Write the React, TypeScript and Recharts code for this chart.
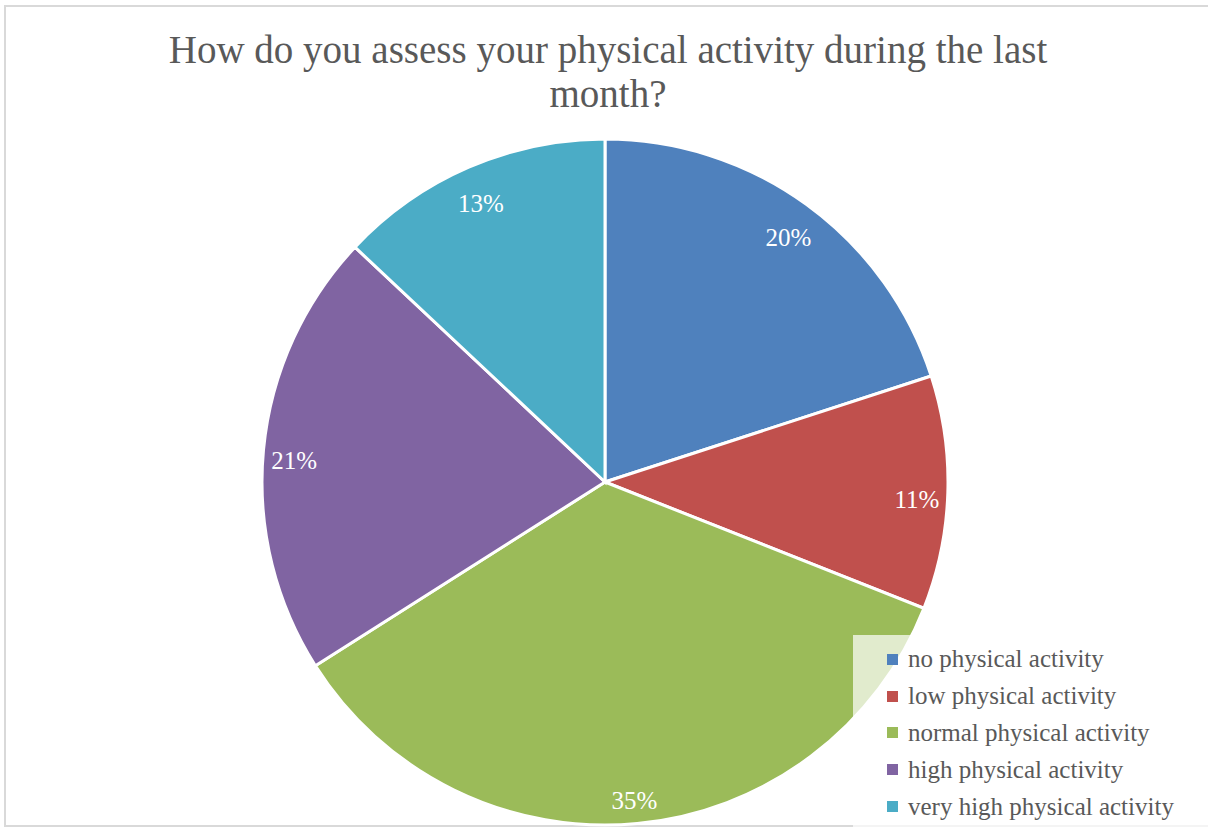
import React from 'react';
import { PieChart, Pie, Cell, Legend } from 'recharts';

const categories = [
  'no physical activity',
  'low physical activity',
  'normal physical activity',
  'high physical activity',
  'very high physical activity',
];
const shares = [20, 11, 35, 21, 13];
const colors = ['#4F81BD', '#C0504D', '#9BBB59', '#8064A2', '#4BACC6'];

const title = ['How do you assess your physical activity during the last', 'month?'];

const data = categories.map((name, i) => ({ name, value: shares[i] }));

const FONT = '"Liberation Serif", "DejaVu Serif", serif';
const RADIAN = Math.PI / 180;

const renderLabel = (props: any) => {
  const { cx, cy, midAngle, outerRadius, value } = props;
  const r = outerRadius * 0.91;
  const x = cx + r * Math.cos(-midAngle * RADIAN);
  const y = cy + r * Math.sin(-midAngle * RADIAN) + 8;
  return (
    <text x={x} y={y} fill="#ffffff" fontSize={25} fontFamily={FONT} textAnchor="middle" dominantBaseline="central">
      {value}%
    </text>
  );
};

const LegendBox = () => (
  <div style={{ background: 'rgba(255,255,255,0.7)', width: 360, height: 195, paddingTop: 6, boxSizing: 'border-box' }}>
    {categories.map((name, i) => (
      <div key={name} style={{ display: 'flex', alignItems: 'center', height: 36.8, paddingLeft: 34 }}>
        <div style={{ width: 11, height: 11, background: colors[i], marginRight: 10 }} />
        <span style={{ fontFamily: FONT, fontSize: 25, color: '#595959' }}>{name}</span>
      </div>
    ))}
  </div>
);

export default function App() {
  return (
    <div style={{ position: 'absolute', left: 0, top: 0, width: 1208, height: 830, overflow: 'hidden', background: '#fff' }}>
      <div style={{ position: 'absolute', left: 4, top: 5, width: 1300, height: 822, border: '2px solid #d9d9d9', boxSizing: 'border-box' }} />
      <div style={{ position: 'absolute', left: 0, top: 28, width: 1216, textAlign: 'center', fontFamily: FONT, fontSize: 39, lineHeight: '44px', color: '#595959' }}>
        {title.map((t) => (
          <div key={t}>{t}</div>
        ))}
      </div>
      <div style={{ position: 'absolute', left: 0, top: 0 }}>
        <PieChart width={1208} height={830} margin={{ top: 0, right: 0, bottom: 0, left: 0 }}>
          <Pie
            data={data}
            dataKey="value"
            nameKey="name"
            cx={605}
            cy={482}
            outerRadius={343}
            startAngle={90}
            endAngle={-270}
            stroke="#ffffff"
            strokeWidth={3}
            label={renderLabel}
            labelLine={false}
            isAnimationActive={false}
          >
            {data.map((d, i) => (
              <Cell key={d.name} fill={colors[i]} />
            ))}
          </Pie>
          <Legend
            content={<LegendBox />}
            wrapperStyle={{ position: 'absolute', left: 853, top: 635, width: 360 }}
          />
        </PieChart>
      </div>
    </div>
  );
}
